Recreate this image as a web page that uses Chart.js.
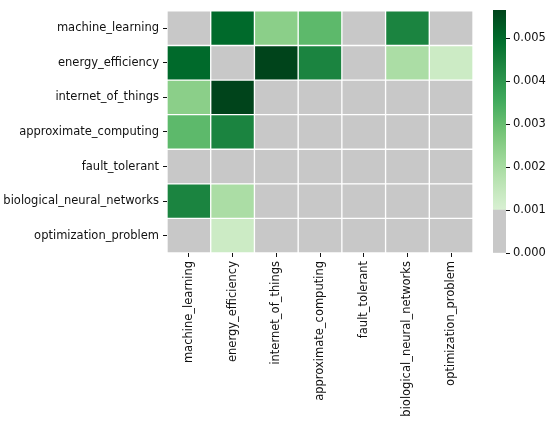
<!DOCTYPE html>
<html>
<head>
<meta charset="utf-8">
<script src="https://cdn.jsdelivr.net/npm/chart.js@4.4.1/dist/chart.umd.min.js"></script>
<style>
  html, body { margin: 0; padding: 0; background: #fff; }
  #wrap { position: relative; width: 550px; height: 422px; }
  #heat { position: absolute; left: 0; top: 0; }
  #cbar { position: absolute; left: 480px; top: 0; }
</style>
</head>
<body>
<div id="wrap">
  <canvas id="heat" width="480" height="422"></canvas>
  <canvas id="cbar" width="70" height="422"></canvas>
</div>
<script>
// keywords (rows and columns are the same list)
const terms = [
    'machine_learning',
    'energy_efficiency',
    'internet_of_things',
    'approximate_computing',
    'fault_tolerant',
    'biological_neural_networks',
    'optimization_problem'
];

// one row of the matrix per keyword
const machineLearning = [0, 0.0050, 0.00247, 0.00315, 0, 0.0044, 0];
const energyEfficiency = [0.0050, 0, 0.00566, 0.0044, 0, 0.00194, 0.0013];
const internetOfThings = [0.00247, 0.00566, 0, 0, 0, 0, 0];
const approximateComputing = [0.00315, 0.0044, 0, 0, 0, 0, 0];
const faultTolerant = [0, 0, 0, 0, 0, 0, 0];
const biologicalNeuralNetworks = [0.0044, 0.00194, 0, 0, 0, 0, 0];
const optimizationProblem = [0, 0.0013, 0, 0, 0, 0, 0];

const cbarTicks = [0, 0.001, 0.002, 0.003, 0.004, 0.005];
const vmax = 0.00566;
const cutoff = 0.001;   // below this the cell is grey

const matrix = [machineLearning, energyEfficiency, internetOfThings, approximateComputing,
    faultTolerant, biologicalNeuralNetworks, optimizationProblem];

// matplotlib "Greens"
const greens = ['#f7fcf5', '#e5f5e0', '#c7e9c0', '#a1d99b', '#74c476', '#41ab5d', '#238b45', '#006d2c', '#00441b'];
const GREY = '#c8c8c8';
const TEXT = '#111111';
const FONT = { family: 'DejaVu Sans', size: 11.5 };

function hexToRgb(h) {
    return [parseInt(h.slice(1, 3), 16), parseInt(h.slice(3, 5), 16), parseInt(h.slice(5, 7), 16)];
}

function greenAt(t) {
    t = Math.max(0, Math.min(1, t));
    const pos = t * (greens.length - 1);
    const i = Math.min(Math.floor(pos), greens.length - 2);
    const f = pos - i;
    const a = hexToRgb(greens[i]), b = hexToRgb(greens[i + 1]);
    const c = a.map((v, k) => Math.round(v + (b[k] - v) * f));
    return `rgb(${c[0]}, ${c[1]}, ${c[2]})`;
}

function cellColor(v) {
    return v < cutoff ? GREY : greenAt(v / vmax);
}

// heatmap: horizontal stacked bars, one dataset per column, each cell one unit wide
const heatDatasets = terms.map((col, j) => ({
    label: col,
    data: terms.map(() => 1),
    backgroundColor: matrix.map(row => cellColor(row[j])),
    borderColor: '#ffffff',
    borderWidth: 1,
    borderSkipped: false,
    barPercentage: 1,
    categoryPercentage: 1
}));

new Chart(document.getElementById('heat'), {
    type: 'bar',
    data: { labels: terms, datasets: heatDatasets },
    options: {
        responsive: false,
        animation: false,
        indexAxis: 'y',
        layout: { padding: { top: 5, right: 7, left: 0, bottom: 0 } },
        plugins: { legend: { display: false }, tooltip: { enabled: false } },
        scales: {
            x: { stacked: true, min: 0, max: terms.length, display: false },
            xl: {
                type: 'category',
                labels: terms,
                position: 'bottom',
                offset: true,
                border: { display: false },
                grid: { drawOnChartArea: false, offset: false, tickLength: 4, color: TEXT, tickWidth: 1 },
                ticks: { minRotation: 90, maxRotation: 90, autoSkip: false, padding: 4, color: TEXT, font: FONT },
                afterFit: s => { s.height = 169; }
            },
            y: {
                stacked: true,
                border: { display: false },
                grid: { drawOnChartArea: false, offset: false, tickLength: 4, color: TEXT, tickWidth: 1 },
                ticks: { autoSkip: false, padding: 4, color: TEXT, font: FONT },
                afterFit: s => { s.width = 167; }
            }
        }
    }
});

// colour bar: grey block under the cutoff, gradient above it
function barGradient(ctx) {
    const chart = ctx.chart;
    if (!chart.chartArea) return greenAt(0.5);
    const y = chart.scales.y;
    const g = chart.ctx.createLinearGradient(0, y.getPixelForValue(cutoff), 0, y.getPixelForValue(vmax));
    const n = 24;
    for (let k = 0; k <= n; k++) {
        const v = cutoff + (vmax - cutoff) * k / n;
        g.addColorStop(k / n, greenAt(v / vmax));
    }
    return g;
}

new Chart(document.getElementById('cbar'), {
    type: 'bar',
    data: {
        labels: ['scale'],
        datasets: [
            { data: [[0, cutoff]], backgroundColor: GREY, grouped: false, barPercentage: 1, categoryPercentage: 1 },
            { data: [[cutoff, vmax]], backgroundColor: barGradient, grouped: false, barPercentage: 1, categoryPercentage: 1 }
        ]
    },
    options: {
        responsive: false,
        animation: false,
        layout: { padding: { top: 5, left: 13, right: 0, bottom: 169 } },
        plugins: { legend: { display: false }, tooltip: { enabled: false } },
        scales: {
            x: { display: false },
            y: {
                position: 'right',
                min: 0,
                max: vmax,
                border: { display: false },
                grid: { drawOnChartArea: false, tickLength: 4, color: TEXT, tickWidth: 1 },
                afterBuildTicks: s => { s.ticks = cbarTicks.map(v => ({ value: v })); },
                ticks: { padding: 3, color: TEXT, font: FONT, callback: v => v.toFixed(3) },
                afterFit: s => { s.width = 44; }
            }
        }
    }
});
</script>
</body>
</html>
